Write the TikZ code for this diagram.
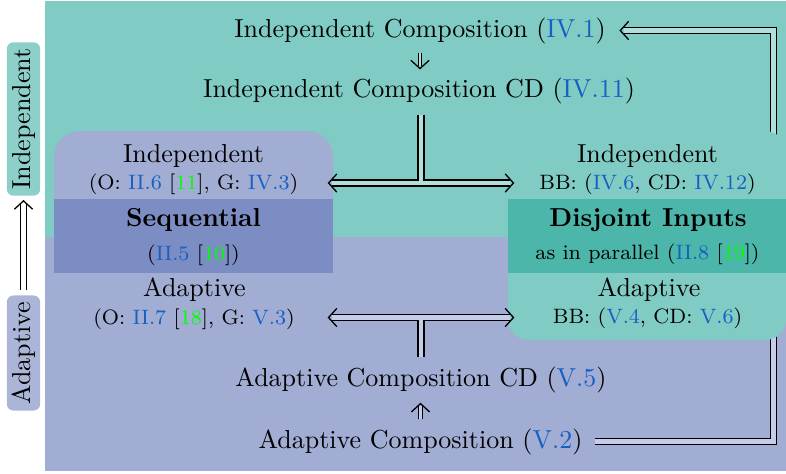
\documentclass[tikz,border=0pt]{standalone}
\usetikzlibrary{fit,calc}
\definecolor{tealbg}{RGB}{128,203,196}
\definecolor{tealdark}{RGB}{77,182,170}
\definecolor{tealL}{RGB}{178,223,219}
\definecolor{lavbg}{RGB}{161,173,211}
\definecolor{lavdark}{RGB}{124,141,195}
\definecolor{lavL}{RGB}{198,205,232}
\definecolor{refblue}{RGB}{22,95,195}
\definecolor{citegreen}{RGB}{0,255,0}
\newcommand\myref[1]{\textcolor{refblue}{#1}}
\newcommand\mycite[1]{[\textcolor{citegreen}{#1}]}
\pgfdeclarelayer{bglayer}
\pgfdeclarelayer{behindlayer}
\pgfsetlayers{bglayer,behindlayer,main}
\tikzset{imphead/.pic={\draw[line width=0.5pt, line cap=round]
  (-3.1pt,3.4pt) .. controls (-1.5pt,1.4pt) .. (0pt,0pt)
  .. controls (-1.5pt,-1.4pt) .. (-3.1pt,-3.4pt);}}
\begin{document}
\begin{tikzpicture}[x=0.3846pt,y=-0.3846pt,
  txt/.style={inner sep=0pt, anchor=base},
  smalltxt/.style={txt, font=\footnotesize},
  region/.style={inner sep=0pt, draw=none},
  dblline/.style={double, line width=0.5pt, double distance=1.8pt},
  thinline/.style={double, line width=0.45pt, double distance=0.8pt},
  lab/.style={rotate=90, rounded corners=2.5pt, inner xsep=2.4pt, inner ysep=1.9pt, text height=7pt, text depth=2pt}]
\useasboundingbox (0,0) rectangle (786,473);
\begin{pgfonlayer}{bglayer}
\fill[tealbg] (45,1) rectangle (786,237);
\fill[lavbg] (45,237) rectangle (786,471);
\end{pgfonlayer}
% regions
\node[region, fit={(54,131) (333,340)}, fill=lavbg, rounded corners=10pt] (seq) {};
\node[region, fit={(508,131) (786,340)}, fill=tealbg, rounded corners=8pt] (disj) {};
\node[region, fit={(54,199) (333,273)}, fill=lavdark] (seqband) {};
\node[region, fit={(508,199) (786,273)}, fill=tealdark] (disjband) {};
% labels
\node[lab, fill=tealbg!90!white] (indlab) at (23.5,119) {Independent};
\node[lab, fill=lavbg!90!white] (adlab) at (23.5,353) {Adaptive};
% texts
\node[txt] (ic1) at (420,37) {Independent Composition (\myref{IV.1})};
\node[txt] (ic2) at (419,97.7) {Independent Composition CD (\myref{IV.11})};
\node[txt] (sqi) at (193.5,162) {Independent};
\node[smalltxt] (sqib) at (193.5,189) {(O: \myref{II.6} \mycite{11}, G: \myref{IV.3})};
\node[txt, font=\bfseries] (sqt) at (193.5,226.7) {Sequential};
\node[smalltxt] (sqtb) at (193.5,260) {(\myref{II.5} \mycite{10})};
\node[txt] (sqa) at (194.5,296) {Adaptive};
\node[smalltxt] (sqab) at (194,324) {(O: \myref{II.7} \mycite{18}, G: \myref{V.3})};
\node[txt] (ac2) at (421,386.7) {Adaptive Composition CD (\myref{V.5})};
\node[txt] (ac1) at (420.5,448) {Adaptive Composition (\myref{V.2})};
\node[txt] (dji) at (647.5,162) {Independent};
\node[smalltxt] (djib) at (647.5,189) {BB: (\myref{IV.6}, CD: \myref{IV.12})};
\node[txt, font=\bfseries] (djt) at (648,226.7) {Disjoint Inputs};
\node[smalltxt] (djtb) at (647.5,259) {as in parallel (\myref{II.8} \mycite{19})};
\node[txt] (dja) at (649,296.5) {Adaptive};
\node[smalltxt] (djab) at (647.5,323) {BB: (\myref{V.4}, CD: \myref{V.6})};
% junctions and arrow tips
\coordinate (j1) at (421,183);
\coordinate (j2) at (421,317.5);
\coordinate (t1) at ([xshift=5.4pt]ic1.east);
\coordinate (t2) at ([yshift=-1.8pt]indlab.west);
\coordinate (t3) at ([yshift=3.5pt]ic2.north -| ic1.south);
\coordinate (t4) at ([yshift=-3.8pt]ac2.south -| ac1.north);
\coordinate (tl1) at ($(seq.east |- j1)+(-5,0)$);
\coordinate (tr1) at ($(disj.west |- j1)+(6,0)$);
\coordinate (tl2) at ($(seq.east |- j2)+(-5,0)$);
\coordinate (tr2) at ($(disj.west |- j2)+(6,0)$);
% connectors behind the disjoint node
\begin{pgfonlayer}{behindlayer}
\draw[dblline, double=tealL] ($(disj.north east)+(-13,20)$) |- ([xshift=1.3pt]t1);
\draw[dblline, double=lavL, shorten <=4.6pt] (ac1.east) -| ($(disj.south east)+(-13,-20)$);
\end{pgfonlayer}
\pic[rotate=180] at (t1) {imphead};
% left arrow
\draw[dblline, double=white] ([yshift=1.9pt]adlab.east) -- ([yshift=-1.3pt]t2);
\pic[rotate=90] at (t2) {imphead};
% short arrows
\draw[thinline, double=tealL] ([yshift=-3.3pt]ic1.south) -- ([yshift=0.9pt]t3);
\pic[rotate=-90] at (t3) {imphead};
\draw[thinline, double=lavL] ([yshift=3.3pt]ac1.north) -- ([yshift=-0.9pt]t4);
\pic[rotate=90] at (t4) {imphead};
% T connectors
\draw[dblline, double=tealL] ([xshift=1.3pt]tl1) -- ([xshift=-1.3pt]tr1);
\pic[rotate=180] at (tl1) {imphead};
\pic at (tr1) {imphead};
\draw[dblline, double=tealL, shorten <=3.8pt] (ic2.south -| j1) -- ([yshift=0.9pt]j1);
\draw[dblline, double=lavL] ([xshift=1.3pt]tl2) -- ([xshift=-1.3pt]tr2);
\pic[rotate=180] at (tl2) {imphead};
\pic at (tr2) {imphead};
\draw[dblline, double=lavL, shorten <=3.9pt] (ac2.north -| j2) -- ([yshift=-0.9pt]j2);
\end{tikzpicture}
\end{document}
